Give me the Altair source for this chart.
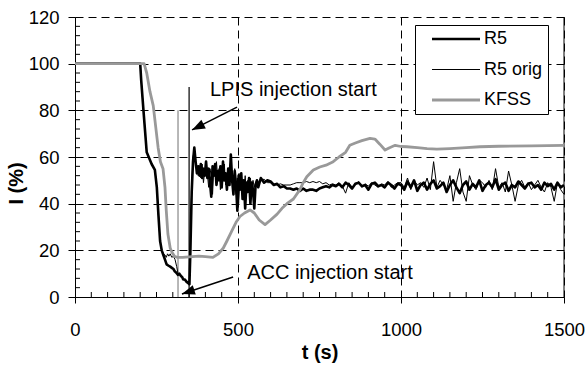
import altair as alt
import pandas as pd

FONT = "Liberation Sans"

# ---------------- data ----------------
series_names = ["R5", "R5 orig", "KFSS"]
series_colors = ["#000000", "#000000", "#999999"]
series_widths = [2.6, 1.0, 2.8]

x_ticks = [0, 500, 1000, 1500]
y_ticks = [0, 20, 40, 60, 80, 100, 120]
x_minor = [v for v in range(50, 1500, 50) if v % 500]
y_minor = [v for v in range(4, 120, 4) if v % 20]

# sampling grids of the recorded signals (s)
grid_a = list(range(366, 563, 4))
grid_b = list(range(570, 791, 10))
grid_c = list(range(800, 1501, 10))

# R5 (thick black)
r5_head_t = [0, 200, 203, 210, 215, 220, 235, 245, 251, 256, 261, 266, 271, 276, 281, 286,
             292, 297, 302, 306, 310, 316, 320, 325, 329, 332, 337, 342, 347, 351, 354, 358, 362]
r5_head_v = [100, 100, 93, 80, 71, 62, 57, 54.5, 47, 35, 24, 20, 18, 16, 14, 13.5,
             13, 12.5, 12, 11, 10.5, 9.5, 10, 9, 8.5, 7.5, 7.5, 6.5, 6, 5.5, 20, 45, 58]
r5_a = [64, 58, 53, 56, 52, 57, 51, 55, 52, 58,
        51, 55, 49, 43, 56, 52, 57, 48, 54, 50,
        56, 47, 58, 50, 53, 46, 55, 48, 61, 50,
        44, 54, 48, 37, 52, 46, 53, 42, 50, 38,
        49, 45, 51, 40, 49, 46, 38, 48, 50, 47]
r5_b = [51, 49, 50, 49.5, 48, 48.5, 47, 47.5, 46.5, 46.5, 46, 46.5, 45.5, 46.5, 45.5,
        46, 46, 45.5, 46.5, 47, 47.5, 47, 48]
r5_c = [47.5, 48.5, 47, 49, 48, 46.5, 48.5, 49, 47.5, 48, 46, 48.5, 49, 47.5, 48, 47, 49, 48, 46.5, 48.5,
        48, 46, 49.5, 47, 50, 45.5, 48, 49, 46, 48.5,
        50, 46.5, 47.5, 49, 45, 48, 50, 47, 44.5, 48,
        49.5, 46, 48.5, 47, 50, 45.5, 48, 49, 47, 50.5,
        46, 48, 49, 45.5, 48, 47, 49.5, 48, 46.5, 48.5,
        49, 47, 48, 46, 49, 47.5, 48.5, 46, 49, 47, 48]

# R5 orig (thin black)
orig_head_t = [0, 200, 203, 210, 215, 220, 235, 245, 251, 256, 261, 266, 271, 276, 280, 284,
               288, 292, 297, 302, 307, 312, 316, 320, 325, 329, 332, 337, 342, 347, 351, 354, 358, 362]
orig_head_v = [100, 100, 93, 80, 71, 62, 57, 54.5, 47, 35, 24, 20, 18.5, 18, 17, 18.5,
               17.5, 18.5, 17, 17.5, 16, 13, 10, 10, 9, 8.5, 8, 7, 7, 6.5, 7, 25, 47, 60]
orig_a = [63, 57, 54, 52, 56, 51, 57, 49, 54, 56,
          53, 47, 55, 52, 44, 56, 53, 58, 50, 55,
          46, 54, 52, 57, 48, 53, 50, 56, 58, 52,
          47, 55, 44, 51, 40, 53, 48, 50, 45, 52,
          44, 50, 47, 51, 46, 50, 47, 49, 50, 49]
orig_b = [50, 50.5, 49, 49, 48.5, 48, 48.5, 48, 48, 48, 48.5, 49, 49, 49, 49.5,
          49, 49.5, 49, 49.5, 48.5, 49, 48, 48.5]
orig_c = [48, 49, 47.5, 44.5, 49, 47, 48, 49.5, 47, 48.5, 47.5, 49, 48, 47, 48.5, 48, 49.5, 47, 48, 49,
          49, 47, 51, 46, 50, 48, 49, 47, 51, 46,
          58, 47, 50, 48, 46, 52, 41, 49, 55, 45,
          41, 52, 48, 46, 50, 49, 47, 50, 46, 55,
          47, 49, 45, 54, 48, 41, 48, 50, 47, 49,
          46, 48, 50, 47, 45, 49, 47, 41, 49, 46, 44]

# KFSS (thick grey)
kfss_t = [0, 212, 220, 230, 240, 255, 262, 270, 276, 280, 285, 292, 297, 305, 313, 330, 350,
          380, 400, 423, 440, 455, 466, 480, 494, 506, 520, 537, 550, 565, 583, 600, 620,
          635, 650, 670, 690, 700, 711, 731, 751, 770, 792, 810, 830, 843, 860, 880, 905,
          920, 935, 951, 965, 982, 1000, 1018, 1050, 1080, 1110, 1150, 1200, 1242, 1300,
          1400, 1500]
kfss_v = [100, 100, 96, 88, 82, 64, 58, 55, 47, 37, 27, 21, 19.3, 17.5, 17, 17, 17.2,
          17.5, 17.3, 17, 18.5, 21, 24, 28, 32, 34.5, 36, 37.3, 36, 33, 31, 33, 35.5,
          38, 40, 42, 46, 49, 51.5, 54.4, 55.7, 56.5, 58, 60, 62, 65, 66, 67, 68,
          67.7, 65.5, 63, 64, 65, 64.5, 64.4, 64, 63.6, 63.4, 63.6, 64, 64.4, 64.6,
          64.8, 65]

# annotations
vrule_t = [316, 350]
vrule_top = [80, 90]
vrule_color = ["#888888", "#000000"]
notes = ["LPIS injection start", "ACC injection start"]
note_t = [414, 528]
note_y = [88.7, 10.3]
arrow_from_t = [497, 485]
arrow_from_y = [81.4, 8.6]
arrow_to_t = [359, 328]
arrow_to_y = [71.6, 1.3]
arrow_angle = [243, 252]

# ---------------- tables ----------------
r5_t = r5_head_t + grid_a + grid_b + grid_c
r5_v = r5_head_v + r5_a + r5_b + r5_c
orig_t = orig_head_t + grid_a + grid_b + grid_c
orig_v = orig_head_v + orig_a + orig_b + orig_c

df = pd.concat([
    pd.DataFrame({"t": r5_t, "v": r5_v, "series": "R5"}),
    pd.DataFrame({"t": orig_t, "v": orig_v, "series": "R5 orig"}),
    pd.DataFrame({"t": kfss_t, "v": kfss_v, "series": "KFSS"}),
], ignore_index=True)

notes_df = pd.DataFrame({"text": notes, "t": note_t, "y": note_y})
arrows_df = pd.DataFrame({"t0": arrow_from_t, "y0": arrow_from_y,
                          "t1": arrow_to_t, "y1": arrow_to_y, "angle": arrow_angle})
vrules_df = pd.DataFrame({"t": vrule_t, "bottom": [0, 0], "top": vrule_top, "c": vrule_color})
border_df = pd.DataFrame({"t": [x_ticks[-1]], "b": [y_ticks[0]], "e": [y_ticks[-1]]})
xminor_df = pd.DataFrame({"t": x_minor})
yminor_df = pd.DataFrame({"y": y_minor})

W, H = 489, 280

xscale = alt.Scale(domain=[0, 1500], nice=False, zero=False)
yscale = alt.Scale(domain=[0, 120], nice=False, zero=False)

x_axis = alt.Axis(values=x_ticks, title="t (s)", grid=True, gridDash=[8, 5], gridColor="black",
                  gridWidth=1, tickSize=6, tickColor="black", domainColor="black",
                  labelFont=FONT, labelFontSize=18.5, labelColor="black", labelPadding=17,
                  labelFlush=False, titleFont=FONT, titleFontSize=20, titleFontWeight="bold",
                  titleColor="black", titleX=W / 2, titleY=55, titleAlign="center",
                  titleBaseline="middle", format="d")
y_axis = alt.Axis(values=y_ticks, title="I (%)", grid=True, gridDash=[8, 5], gridColor="black",
                  gridWidth=1, tickSize=7, tickColor="black", domainColor="black",
                  labelFont=FONT, labelFontSize=18.5, labelColor="black", labelPadding=9,
                  labelFlush=False, titleFont=FONT, titleFontSize=20, titleFontWeight="bold",
                  titleColor="black", titleAngle=270, titleX=-59, titleY=166,
                  titleAlign="center", titleBaseline="middle", format="d")

color_scale = alt.Scale(domain=series_names, range=series_colors)
width_scale = alt.Scale(type="ordinal", domain=series_names, range=series_widths)

legend = alt.Legend(orient="none", legendX=340, legendY=8, title=None,
                    symbolType="M-4.8,0L4.8,0", symbolSize=100, symbolOffset=27,
                    labelOffset=19, padding=5, rowPadding=12.5, fillColor="white",
                    strokeColor="black", labelFont=FONT, labelFontSize=18, labelColor="black",
                    labelExpr="datum.label + '\u00a0\u00a0'")

grid_base = alt.Chart(df).mark_line(opacity=0).encode(
    x=alt.X("t:Q", scale=xscale, axis=x_axis),
    y=alt.Y("v:Q", scale=yscale, axis=y_axis),
)

def series_layer(name):
    return alt.Chart(df).transform_filter(alt.datum.series == name).mark_line(
        strokeJoin="round", strokeCap="butt"
    ).encode(
        x=alt.X("t:Q", scale=xscale),
        y=alt.Y("v:Q", scale=yscale),
        color=alt.Color("series:N", scale=color_scale, legend=legend),
        strokeWidth=alt.StrokeWidth("series:N", scale=width_scale, legend=legend),
    )

vrules = alt.Chart(vrules_df).mark_rule(strokeWidth=1.2).encode(
    x=alt.X("t:Q", scale=xscale),
    y=alt.Y("bottom:Q", scale=yscale),
    y2="top:Q",
    stroke=alt.Stroke("c:N", scale=None),
)

arrow_lines = alt.Chart(arrows_df).mark_rule(color="black", strokeWidth=1.5).encode(
    x=alt.X("t0:Q", scale=xscale), y=alt.Y("y0:Q", scale=yscale),
    x2="t1:Q", y2="y1:Q",
)
arrow_heads = alt.Chart(arrows_df).mark_point(
    shape="M0,0L-0.9,2.4L0.9,2.4Z", filled=True, color="black", opacity=1, size=117, strokeWidth=0
).encode(
    x=alt.X("t1:Q", scale=xscale), y=alt.Y("y1:Q", scale=yscale),
    angle=alt.Angle("angle:Q", scale=None),
)

note_text = alt.Chart(notes_df).mark_text(
    align="left", baseline="middle", font=FONT, fontSize=20, color="black"
).encode(x=alt.X("t:Q", scale=xscale), y=alt.Y("y:Q", scale=yscale), text="text:N")

right_border = alt.Chart(border_df).mark_rule(color="black", strokeWidth=1).encode(
    x=alt.X("t:Q", scale=xscale), y=alt.Y("b:Q", scale=yscale), y2="e:Q"
)

x_minor_ticks = alt.Chart(xminor_df).mark_rule(color="black", strokeWidth=1).encode(
    x=alt.X("t:Q", scale=xscale), y=alt.value(H - 5), y2=alt.value(H)
)
y_minor_ticks = alt.Chart(yminor_df).mark_rule(color="black", strokeWidth=1).encode(
    y=alt.Y("y:Q", scale=yscale), x=alt.value(0), x2=alt.value(5)
)

chart = alt.layer(
    grid_base, x_minor_ticks, y_minor_ticks, right_border, vrules,
    series_layer("R5"), series_layer("R5 orig"), series_layer("KFSS"),
    arrow_lines, arrow_heads, note_text,
).properties(
    width=W, height=H,
    autosize=alt.AutoSizeParams(type="none"),
    padding={"left": 75, "top": 17, "right": 24, "bottom": 68},
    background="white",
).configure_view(stroke=None)

chart.save("out.html", embed_options={"renderer": "svg", "actions": False})
